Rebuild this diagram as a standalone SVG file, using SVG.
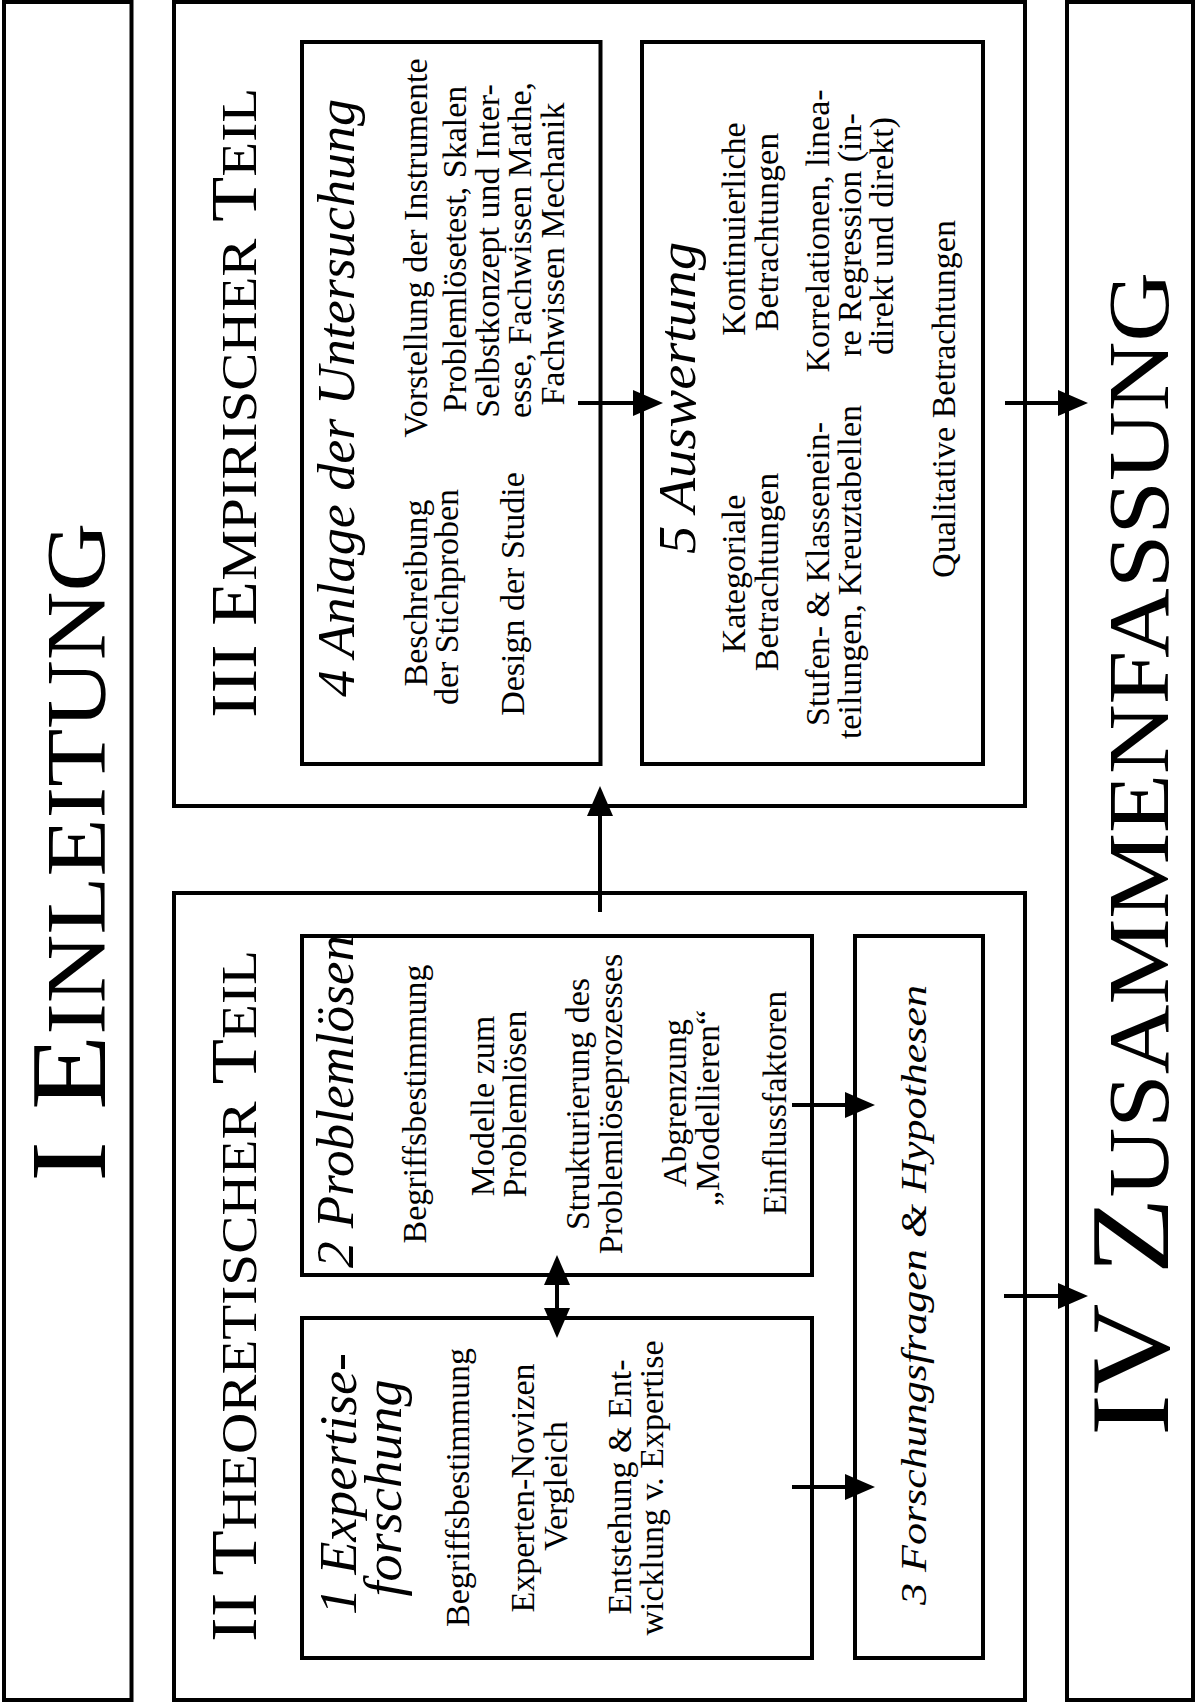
<svg xmlns="http://www.w3.org/2000/svg" width="1197" height="1707" viewBox="0 0 1197 1707">
<defs>
<style>
.box{fill:none;stroke:#000;stroke-width:4}
.t{font-family:"Liberation Serif","Times New Roman",serif;fill:#000;text-anchor:middle}
.b{font-size:34px}
.it{font-style:italic}
.sc{font-variant:small-caps}
.con line{stroke:#000;stroke-width:4}
</style>
<marker id="ah" viewBox="0 0 30 26" refX="0" refY="13" markerWidth="30" markerHeight="26" markerUnits="userSpaceOnUse" orient="auto-start-reverse">
<path d="M0,0 L30,13 L0,26 Z" fill="#000"/>
</marker>
</defs>
<rect width="1197" height="1707" fill="#fff"/>

<g id="part1">
<rect class="box" x="4" y="2" width="127.5" height="1698"/>
<text class="t sc" transform="translate(104.5 852.5) rotate(-90)" font-size="109" textLength="659" lengthAdjust="spacingAndGlyphs">I E<tspan font-size="120">inleitung</tspan></text>
</g>

<g id="part3">
<rect class="box" x="174" y="2" width="851" height="804"/>
<text class="t sc" transform="translate(256 403) rotate(-90)" font-size="66" textLength="630" lengthAdjust="spacingAndGlyphs">III E<tspan font-size="73">mpirischer</tspan> T<tspan font-size="73">eil</tspan></text>
</g>

<g id="part2">
<rect class="box" x="174" y="893" width="851" height="807"/>
<text class="t sc" transform="translate(255.5 1296) rotate(-90)" font-size="66" textLength="692" lengthAdjust="spacingAndGlyphs">II T<tspan font-size="73">heoretischer</tspan> T<tspan font-size="73">eil</tspan></text>
</g>

<g id="part4">
<rect class="box" x="1067" y="2" width="126" height="1698"/>
<text class="t sc" transform="translate(1168 854) rotate(-90)" font-size="112" textLength="1164" lengthAdjust="spacingAndGlyphs">IV Z<tspan font-size="123">usammenfassung</tspan></text>
</g>

<g id="chapter4">
<rect class="box" x="302" y="42" width="298.5" height="722"/>
<text class="t it" transform="translate(354 398) rotate(-90)" font-size="53" textLength="598" lengthAdjust="spacingAndGlyphs">4 Anlage der Untersuchung</text>
<text class="t b" transform="translate(427 593) rotate(-90)">Beschreibung</text>
<text class="t b" transform="translate(458 597) rotate(-90)">der Stichproben</text>
<text class="t b" transform="translate(524 594) rotate(-90)">Design der Studie</text>
<text class="t b" transform="translate(427 248) rotate(-90)">Vorstellung der Instrumente</text>
<text class="t b" transform="translate(466 249) rotate(-90)">Problemlösetest, Skalen</text>
<text class="t b" transform="translate(499 251) rotate(-90)">Selbstkonzept und Inter-</text>
<text class="t b" transform="translate(531 250) rotate(-90)">esse, Fachwissen Mathe,</text>
<text class="t b" transform="translate(564 254) rotate(-90)">Fachwissen Mechanik</text>
</g>

<g id="chapter5">
<rect class="box" x="642" y="42" width="341" height="722"/>
<text class="t it" transform="translate(695 398) rotate(-90)" font-size="53" textLength="312" lengthAdjust="spacingAndGlyphs">5 Auswertung</text>
<text class="t b" transform="translate(745 574) rotate(-90)">Kategoriale</text>
<text class="t b" transform="translate(778 572) rotate(-90)">Betrachtungen</text>
<text class="t b" transform="translate(829 574) rotate(-90)">Stufen- &amp; Klassenein-</text>
<text class="t b" transform="translate(861 572) rotate(-90)">teilungen, Kreuztabellen</text>
<text class="t b" transform="translate(745 229) rotate(-90)">Kontinuierliche</text>
<text class="t b" transform="translate(778 232) rotate(-90)">Betrachtungen</text>
<text class="t b" transform="translate(829 231) rotate(-90)">Korrelationen, linea-</text>
<text class="t b" transform="translate(861 235) rotate(-90)">re Regression (in-</text>
<text class="t b" transform="translate(893 236) rotate(-90)">direkt und direkt)</text>
<text class="t b" transform="translate(955 399) rotate(-90)">Qualitative Betrachtungen</text>
</g>

<g id="chapter2">
<rect class="box" x="302" y="936" width="510" height="339"/>
<text class="t it" transform="translate(353 1101.5) rotate(-90)" font-size="53" textLength="333" lengthAdjust="spacingAndGlyphs">2 Problemlösen</text>
<text class="t b" transform="translate(426 1104) rotate(-90)">Begriffsbestimmung</text>
<text class="t b" transform="translate(494 1106) rotate(-90)">Modelle zum</text>
<text class="t b" transform="translate(526 1104) rotate(-90)">Problemlösen</text>
<text class="t b" transform="translate(589 1104) rotate(-90)">Strukturierung des</text>
<text class="t b" transform="translate(622 1104) rotate(-90)">Problemlöseprozesses</text>
<text class="t b" transform="translate(686 1103) rotate(-90)">Abgrenzung</text>
<text class="t b" transform="translate(719 1108) rotate(-90)">„Modellieren“</text>
<text class="t b" transform="translate(786 1103) rotate(-90)">Einflussfaktoren</text>
</g>

<g id="chapter1">
<rect class="box" x="302" y="1318" width="510" height="340"/>
<text class="t it" transform="translate(356 1484) rotate(-90)" font-size="53" textLength="262" lengthAdjust="spacingAndGlyphs">1 Expertise-</text>
<text class="t it" transform="translate(401 1488) rotate(-90)" font-size="53" textLength="217" lengthAdjust="spacingAndGlyphs">forschung</text>
<text class="t b" transform="translate(469 1487.5) rotate(-90)">Begriffsbestimmung</text>
<text class="t b" transform="translate(534 1488) rotate(-90)">Experten-Novizen</text>
<text class="t b" transform="translate(567 1486) rotate(-90)">Vergleich</text>
<text class="t b" transform="translate(631 1487) rotate(-90)">Entstehung &amp; Ent-</text>
<text class="t b" transform="translate(663 1488) rotate(-90)">wicklung v. Expertise</text>
</g>

<g id="chapter3">
<rect class="box" x="855" y="936" width="128" height="722"/>
<text class="t it" transform="translate(926 1295) rotate(-90)" font-size="36" textLength="620" lengthAdjust="spacingAndGlyphs">3 Forschungsfragen &amp; Hypothesen</text>
</g>

<g id="connectors" class="con">
<line x1="578" y1="403" x2="633" y2="403" marker-end="url(#ah)"/>
<line x1="1005" y1="403" x2="1058" y2="403" marker-end="url(#ah)"/>
<line x1="600" y1="912" x2="600" y2="816" marker-end="url(#ah)"/>
<line x1="792" y1="1105" x2="845" y2="1105" marker-end="url(#ah)"/>
<line x1="792" y1="1487" x2="845" y2="1487" marker-end="url(#ah)"/>
<line x1="1004" y1="1296" x2="1058" y2="1296" marker-end="url(#ah)"/>
<line x1="557" y1="1285" x2="557" y2="1308" marker-start="url(#ah)" marker-end="url(#ah)"/>
</g>
</svg>
